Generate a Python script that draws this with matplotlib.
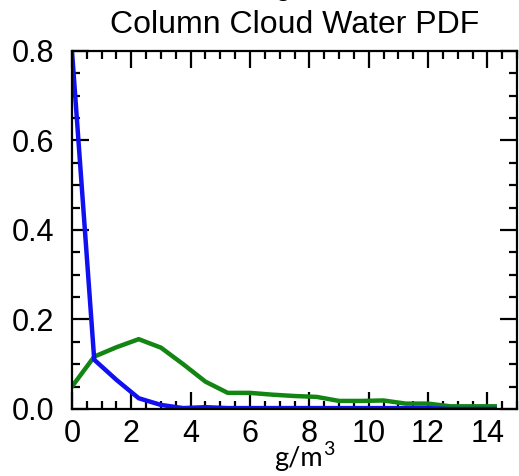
import matplotlib
matplotlib.use("Agg")
import matplotlib.pyplot as plt
from matplotlib.ticker import MultipleLocator

# bin centres (g/m3) and PDF values
bins = [0.0, 0.75, 1.5, 2.25, 3.0, 3.75, 4.5, 5.25, 6.0, 6.75,
        7.5, 8.25, 9.0, 9.75, 10.5, 11.25, 12.0, 12.75, 13.5, 14.25]
pdf_blue = [0.80, 0.110, 0.065, 0.024, 0.009, 0.002, 0.004, 0.002, 0.002, 0.002,
            0.002, 0.002, 0.002, 0.002, 0.002, 0.002, 0.002, 0.0, 0.0, 0.0]
pdf_green = [0.050, 0.117, 0.138, 0.156, 0.137, 0.100, 0.061, 0.036, 0.036, 0.032,
             0.029, 0.027, 0.018, 0.018, 0.019, 0.012, 0.012, 0.006, 0.006, 0.006]

title = "Column Cloud Water PDF"
xlabel_base = "g/m"
xlabel_sup = "3"

plt.rcParams["font.family"] = ["Liberation Sans", "DejaVu Sans"]

fig = plt.figure(figsize=(5.19, 4.76), dpi=100)
ax = fig.add_axes([0.1387, 0.1408, 0.8575, 0.7521])

ax.plot(bins, pdf_green, color="#138513", lw=3.2, solid_joinstyle="round")
ax.plot(bins, pdf_blue, color="#1010f0", lw=3.2, solid_joinstyle="round")

ax.set_xlim(0, 15)
ax.set_ylim(0, 0.8)
ax.xaxis.set_major_locator(MultipleLocator(2))
ax.xaxis.set_minor_locator(MultipleLocator(0.5))
ax.yaxis.set_major_locator(MultipleLocator(0.2))
ax.yaxis.set_minor_locator(MultipleLocator(0.05))
ax.yaxis.set_major_formatter(lambda v, p: f"{v:.1f}")

ax.tick_params(which="both", direction="in", top=True, right=True, width=1.6, colors="black")
ax.tick_params(which="major", length=12, labelsize=22)
ax.tick_params(axis="y", which="major", pad=13)
ax.tick_params(axis="x", which="major", pad=7)
ax.tick_params(which="minor", length=6)
for s in ax.spines.values():
    s.set_linewidth(1.6)

ax.set_title(title, fontsize=23, pad=13)

# x label sits under the axis, in a different font, with a raised "3"
label_font = ["Lato", "DejaVu Sans"]
base_y = 0.020
lbl = fig.text(274 / 519, base_y, xlabel_base, fontsize=19.5, family=label_font,
               ha="left", va="baseline")
fig.canvas.draw()
bb = lbl.get_window_extent(fig.canvas.get_renderer())
fig.text((bb.x1 + 1) / fig.bbox.width, base_y + 11 / fig.bbox.height, xlabel_sup,
         fontsize=14, family=label_font, ha="left", va="baseline")

# clipped remnant of text above the panel
fig.text(0.53, 1.012, "g,", fontsize=22, ha="left", va="baseline")

fig.savefig("out.png", dpi=100)
